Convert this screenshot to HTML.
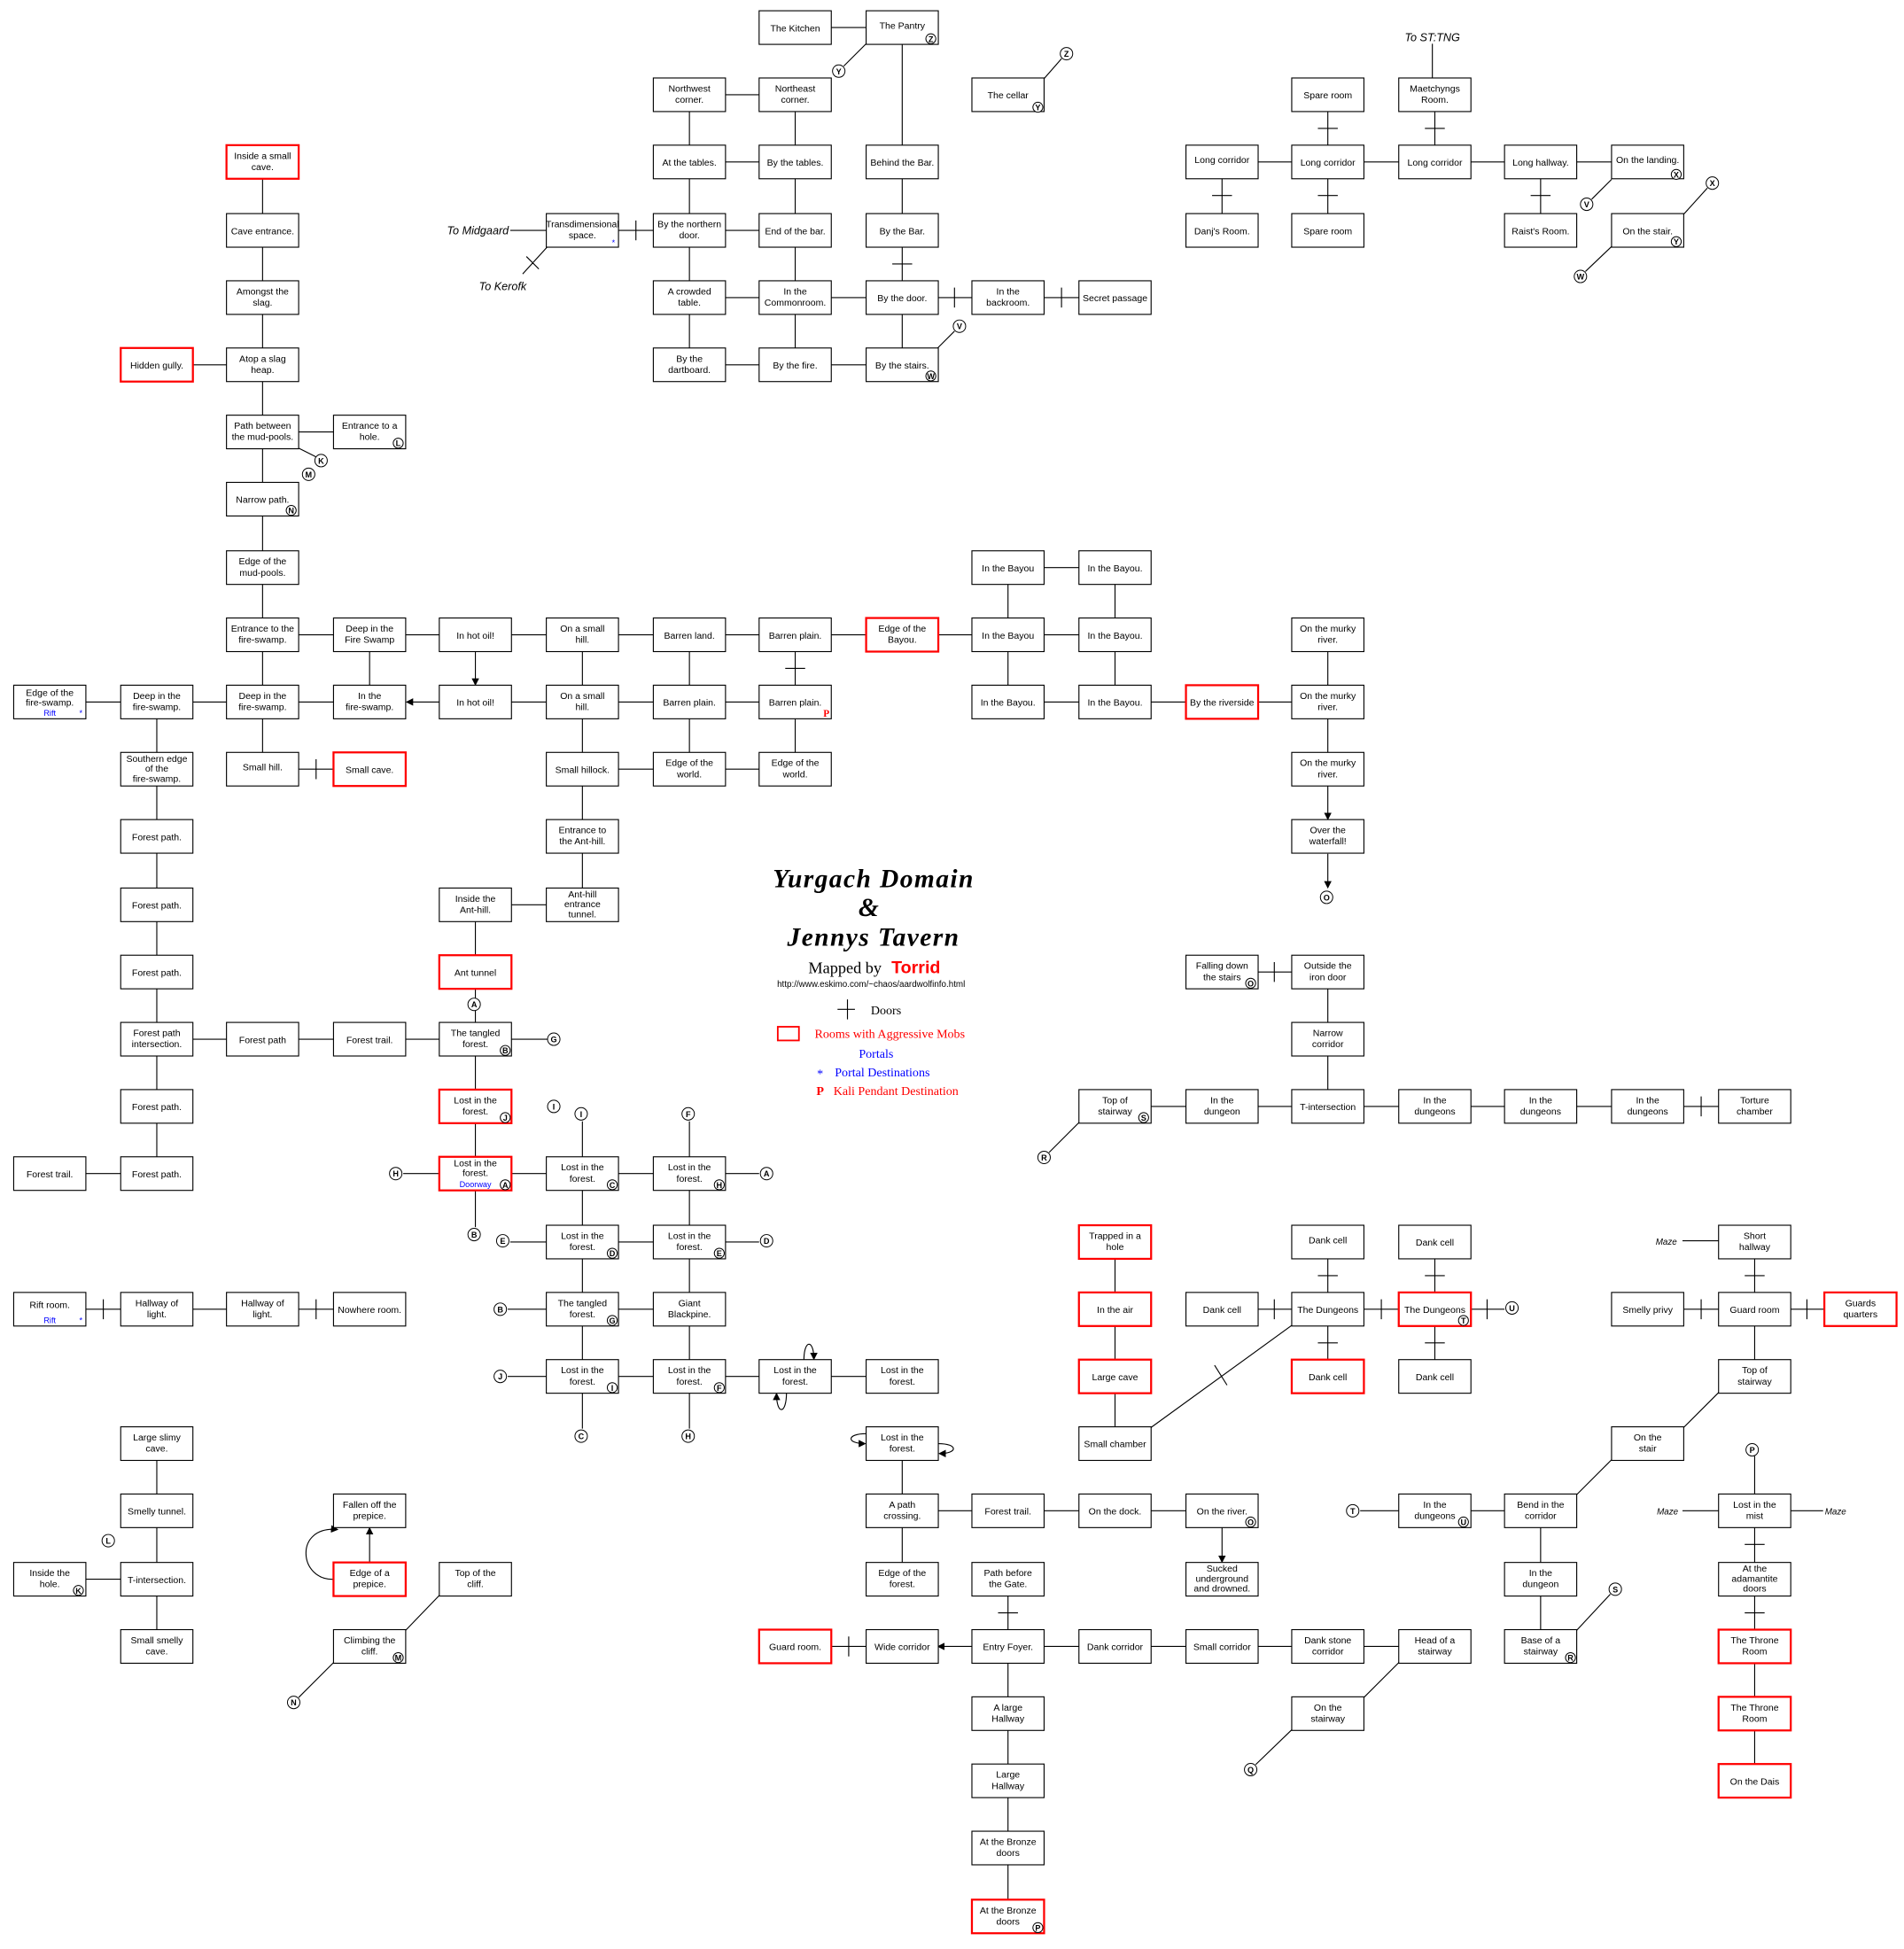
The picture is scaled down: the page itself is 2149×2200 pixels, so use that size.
<!DOCTYPE html>
<html><head><meta charset="utf-8"><style>
html,body{margin:0;padding:0;background:#fff;}
svg{display:block;}
text{font-family:"Liberation Sans",sans-serif;font-size:7.5px;text-anchor:middle;fill:#000;}
rect{fill:#fff;stroke:#000;stroke-width:0.8;}
.r rect{stroke:#f00;stroke-width:1.6;}
.l{fill:none;stroke:#000;stroke-width:0.8;}
circle{fill:#fff;stroke:#000;stroke-width:0.7;}
.c{font-size:6.5px;font-weight:bold;}
.b{fill:#00f;font-size:6.5px;}
.s{font-family:"Liberation Serif",serif;}
</style></head><body>
<svg width="2149" height="2200" viewBox="0 0 1530 1566" xmlns="http://www.w3.org/2000/svg">
<defs><marker id="a" markerWidth="6" markerHeight="6" refX="5" refY="3" orient="auto" markerUnits="userSpaceOnUse"><path d="M0,0 L6,3 L0,6z" fill="#000"/></marker></defs>
<path class="l" d="
M639 22H725 M554 76H639
M554 130H639 M982 130H1067 M1067 130H1153 M1153 130H1238 M1238 130H1324
M468 185H554 M511 177V193 M554 185H639
M554 239H639 M639 239H725 M725 239H810 M767 231V247 M810 239H896 M853 231V247
M126 293H211 M554 293H639 M639 293H725
M211 347H297
M810 456H896
M211 510H297 M297 510H382 M382 510H468 M468 510H554 M554 510H639 M639 510H725 M725 510H810 M810 510H896
M40 564H126 M126 564H211 M211 564H297 M382 564H468 M468 564H554 M554 564H639 M810 564H896 M896 564H982 M982 564H1067
M211 618H297 M254 610V626 M468 618H554 M554 618H639
M382 727H468
M982 781H1067 M1024 773V789
M126 835H211 M211 835H297 M297 835H382 M382 835H440
M896 889H982 M982 889H1067 M1067 889H1153 M1153 889H1238 M1238 889H1324 M1324 889H1410 M1367 881V897
M40 943H126 M324 943H382 M382 943H468 M468 943H554 M554 943H610
M410 998H468 M468 998H554 M554 998H610
M40 1052H126 M83 1044V1060 M126 1052H211 M211 1052H297 M254 1044V1060 M408 1052H468 M468 1052H554
M982 1052H1067 M1024 1044V1060 M1067 1052H1153 M1110 1044V1060 M1153 1052H1209 M1195 1044V1060
M1324 1052H1410 M1367 1044V1060 M1410 1052H1495 M1452 1044V1060
M408 1106H468 M468 1106H554 M554 1106H639 M639 1106H725
M725 1214H810 M810 1214H896 M896 1214H982 M1093 1214H1153 M1153 1214H1238
M40 1269H126
M639 1323H725 M682 1315V1331 M810 1323H896 M896 1323H982 M982 1323H1067 M1067 1323H1153
M126 564V618 M126 618V672 M126 672V727 M126 727V781 M126 781V835 M126 835V889 M126 889V943
M126 1160V1214 M126 1214V1269 M126 1269V1323
M211 130V185 M211 185V239 M211 239V293 M211 293V347 M211 347V401 M211 401V456 M211 456V510 M211 510V564 M211 564V618
M297 510V564
M382 727V781 M382 781V835 M382 813V835 M382 835V889 M382 889V943 M382 943V986
M468 510V564 M468 564V618 M468 618V672 M468 672V727 M468 901V943 M468 943V998 M468 998V1052 M468 1052V1106 M468 1106V1148
M554 76V130 M554 130V185 M554 185V239 M554 239V293 M554 510V564 M554 564V618 M554 901V943 M554 943V998 M554 998V1052 M554 1052V1106 M554 1106V1148
M639 76V130 M639 130V185 M639 185V239 M639 239V293 M639 510V564 M631 537H647 M639 564V618
M725 22V130 M725 130V185 M725 185V239 M717 212H733 M725 239V293 M725 1160V1214 M725 1214V1269
M810 456V510 M810 510V564 M810 1269V1323 M802 1296H818 M810 1323V1377 M810 1377V1431 M810 1431V1485 M810 1485V1540
M896 456V510 M896 510V564 M896 998V1052 M896 1052V1106 M896 1106V1160
M1067 76V130 M1059 103H1075 M1067 130V185 M1059 157H1075 M1067 510V564 M1067 564V618
M1067 781V835 M1067 835V889 M1067 998V1052 M1059 1025H1075 M1067 1052V1106 M1059 1079H1075
M1153 76V130 M1145 103H1161 M1153 998V1052 M1145 1025H1161 M1153 1052V1106 M1145 1079H1161
M982 130V185 M974 157H990 M1238 130V185 M1230 157H1246
M1238 1214V1269 M1238 1269V1323
M1410 998V1052 M1402 1025H1418 M1410 1052V1106 M1410 1170V1214 M1410 1214V1269 M1402 1241H1418 M1410 1269V1323 M1402 1296H1418 M1410 1323V1377 M1410 1377V1431
M696 35L678 53 M839 63L853 47 M753 280L767 266 M410 185H439
M440 198L420 220 M423 206L433 216
M240 360L254 367
M1295 144L1279 160 M1372 151L1353 172 M1295 198L1274 218 M1151 35V63
M867 902L843 926
M1038 1065L925 1147 M976 1097L986 1113
M1381 1119L1353 1147 M1295 1173L1267 1201 M1294 1281L1267 1310
M1096 1364L1124 1336 M1038 1390L1009 1418
M353 1282L326 1310 M268 1336L240 1364
M1352 997H1381 M1352 1214H1381 M1439 1214H1465
"/>
<path class="l" marker-end="url(#a)" d="M382 523V550"/>
<path class="l" marker-end="url(#a)" d="M353 564H327"/>
<path class="l" marker-end="url(#a)" d="M1067 631V658"/>
<path class="l" marker-end="url(#a)" d="M1067 686V713"/>
<path class="l" marker-end="url(#a)" d="M982 1227V1255"/>
<path class="l" marker-end="url(#a)" d="M781 1323H754"/>
<path class="l" marker-end="url(#a)" d="M297 1255V1228"/>
<path class="l" marker-end="url(#a)" d="M268 1269C240 1270 236 1226 271 1229"/>
<path class="l" marker-end="url(#a)" d="M646 1093C646 1076 654 1076 654 1092"/>
<path class="l" marker-end="url(#a)" d="M632 1119C632 1137 624 1137 624 1120"/>
<path class="l" marker-end="url(#a)" d="M696 1152C680 1152 680 1160 695 1160"/>
<path class="l" marker-end="url(#a)" d="M754 1160C770 1160 770 1168 755 1168"/>

<g transform="translate(639,22)"><rect x="-29" y="-13.5" width="58" height="27"/><text y="3">The Kitchen</text></g>
<g transform="translate(725,22)"><rect x="-29" y="-13.5" width="58" height="27"/><text y="1">The Pantry</text></g>
<g transform="translate(554,76)"><rect x="-29" y="-13.5" width="58" height="27"/><text y="-2.5">Northwest</text><text y="6.5">corner.</text></g>
<g transform="translate(639,76)"><rect x="-29" y="-13.5" width="58" height="27"/><text y="-2.5">Northeast</text><text y="6.5">corner.</text></g>
<g transform="translate(810,76)"><rect x="-29" y="-13.5" width="58" height="27"/><text y="3">The cellar</text></g>
<g transform="translate(1067,76)"><rect x="-29" y="-13.5" width="58" height="27"/><text y="3">Spare room</text></g>
<g transform="translate(1153,76)"><rect x="-29" y="-13.5" width="58" height="27"/><text y="-2.5">Maetchyngs</text><text y="6.5">Room.</text></g>
<g class="r" transform="translate(211,130)"><rect x="-29" y="-13.5" width="58" height="27"/><text y="-2.5">Inside a small</text><text y="6.5">cave.</text></g>
<g transform="translate(554,130)"><rect x="-29" y="-13.5" width="58" height="27"/><text y="3">At the tables.</text></g>
<g transform="translate(639,130)"><rect x="-29" y="-13.5" width="58" height="27"/><text y="3">By the tables.</text></g>
<g transform="translate(725,130)"><rect x="-29" y="-13.5" width="58" height="27"/><text y="3">Behind the Bar.</text></g>
<g transform="translate(982,130)"><rect x="-29" y="-13.5" width="58" height="27"/><text y="1">Long corridor</text></g>
<g transform="translate(1067,130)"><rect x="-29" y="-13.5" width="58" height="27"/><text y="3">Long corridor</text></g>
<g transform="translate(1153,130)"><rect x="-29" y="-13.5" width="58" height="27"/><text y="3">Long corridor</text></g>
<g transform="translate(1238,130)"><rect x="-29" y="-13.5" width="58" height="27"/><text y="3">Long hallway.</text></g>
<g transform="translate(1324,130)"><rect x="-29" y="-13.5" width="58" height="27"/><text y="1">On the landing.</text></g>
<g transform="translate(211,185)"><rect x="-29" y="-13.5" width="58" height="27"/><text y="3">Cave entrance.</text></g>
<g transform="translate(468,185)"><rect x="-29" y="-13.5" width="58" height="27"/><text y="-2.5">Transdimensional</text><text y="6.5">space.</text></g>
<g transform="translate(554,185)"><rect x="-29" y="-13.5" width="58" height="27"/><text y="-2.5">By the northern</text><text y="6.5">door.</text></g>
<g transform="translate(639,185)"><rect x="-29" y="-13.5" width="58" height="27"/><text y="3">End of the bar.</text></g>
<g transform="translate(725,185)"><rect x="-29" y="-13.5" width="58" height="27"/><text y="3">By the Bar.</text></g>
<g transform="translate(982,185)"><rect x="-29" y="-13.5" width="58" height="27"/><text y="3">Danj's Room.</text></g>
<g transform="translate(1067,185)"><rect x="-29" y="-13.5" width="58" height="27"/><text y="3">Spare room</text></g>
<g transform="translate(1238,185)"><rect x="-29" y="-13.5" width="58" height="27"/><text y="3">Raist's Room.</text></g>
<g transform="translate(1324,185)"><rect x="-29" y="-13.5" width="58" height="27"/><text y="3">On the stair.</text></g>
<g transform="translate(211,239)"><rect x="-29" y="-13.5" width="58" height="27"/><text y="-2.5">Amongst the</text><text y="6.5">slag.</text></g>
<g transform="translate(554,239)"><rect x="-29" y="-13.5" width="58" height="27"/><text y="-2.5">A crowded</text><text y="6.5">table.</text></g>
<g transform="translate(639,239)"><rect x="-29" y="-13.5" width="58" height="27"/><text y="-2.5">In the</text><text y="6.5">Commonroom.</text></g>
<g transform="translate(725,239)"><rect x="-29" y="-13.5" width="58" height="27"/><text y="3">By the door.</text></g>
<g transform="translate(810,239)"><rect x="-29" y="-13.5" width="58" height="27"/><text y="-2.5">In the</text><text y="6.5">backroom.</text></g>
<g transform="translate(896,239)"><rect x="-29" y="-13.5" width="58" height="27"/><text y="3">Secret passage</text></g>
<g class="r" transform="translate(126,293)"><rect x="-29" y="-13.5" width="58" height="27"/><text y="3">Hidden gully.</text></g>
<g transform="translate(211,293)"><rect x="-29" y="-13.5" width="58" height="27"/><text y="-2.5">Atop a slag</text><text y="6.5">heap.</text></g>
<g transform="translate(554,293)"><rect x="-29" y="-13.5" width="58" height="27"/><text y="-2.5">By the</text><text y="6.5">dartboard.</text></g>
<g transform="translate(639,293)"><rect x="-29" y="-13.5" width="58" height="27"/><text y="3">By the fire.</text></g>
<g transform="translate(725,293)"><rect x="-29" y="-13.5" width="58" height="27"/><text y="3">By the stairs.</text></g>
<g transform="translate(211,347)"><rect x="-29" y="-13.5" width="58" height="27"/><text y="-2.5">Path between</text><text y="6.5">the mud-pools.</text></g>
<g transform="translate(297,347)"><rect x="-29" y="-13.5" width="58" height="27"/><text y="-2.5">Entrance to a</text><text y="6.5">hole.</text></g>
<g transform="translate(211,401)"><rect x="-29" y="-13.5" width="58" height="27"/><text y="3">Narrow path.</text></g>
<g transform="translate(211,456)"><rect x="-29" y="-13.5" width="58" height="27"/><text y="-2.5">Edge of the</text><text y="6.5">mud-pools.</text></g>
<g transform="translate(810,456)"><rect x="-29" y="-13.5" width="58" height="27"/><text y="3">In the Bayou</text></g>
<g transform="translate(896,456)"><rect x="-29" y="-13.5" width="58" height="27"/><text y="3">In the Bayou.</text></g>
<g transform="translate(211,510)"><rect x="-29" y="-13.5" width="58" height="27"/><text y="-2.5">Entrance to the</text><text y="6.5">fire-swamp.</text></g>
<g transform="translate(297,510)"><rect x="-29" y="-13.5" width="58" height="27"/><text y="-2.5">Deep in the</text><text y="6.5">Fire Swamp</text></g>
<g transform="translate(382,510)"><rect x="-29" y="-13.5" width="58" height="27"/><text y="3">In hot oil!</text></g>
<g transform="translate(468,510)"><rect x="-29" y="-13.5" width="58" height="27"/><text y="-2.5">On a small</text><text y="6.5">hill.</text></g>
<g transform="translate(554,510)"><rect x="-29" y="-13.5" width="58" height="27"/><text y="3">Barren land.</text></g>
<g transform="translate(639,510)"><rect x="-29" y="-13.5" width="58" height="27"/><text y="3">Barren plain.</text></g>
<g class="r" transform="translate(725,510)"><rect x="-29" y="-13.5" width="58" height="27"/><text y="-2.5">Edge of the</text><text y="6.5">Bayou.</text></g>
<g transform="translate(810,510)"><rect x="-29" y="-13.5" width="58" height="27"/><text y="3">In the Bayou</text></g>
<g transform="translate(896,510)"><rect x="-29" y="-13.5" width="58" height="27"/><text y="3">In the Bayou.</text></g>
<g transform="translate(1067,510)"><rect x="-29" y="-13.5" width="58" height="27"/><text y="-2.5">On the murky</text><text y="6.5">river.</text></g>
<g transform="translate(40,564)"><rect x="-29" y="-13.5" width="58" height="27"/><text y="-5">Edge of the</text><text y="3">fire-swamp.</text><text class="b" y="11">Rift</text><text class="b" x="25" y="11">*</text></g>
<g transform="translate(126,564)"><rect x="-29" y="-13.5" width="58" height="27"/><text y="-2.5">Deep in the</text><text y="6.5">fire-swamp.</text></g>
<g transform="translate(211,564)"><rect x="-29" y="-13.5" width="58" height="27"/><text y="-2.5">Deep in the</text><text y="6.5">fire-swamp.</text></g>
<g transform="translate(297,564)"><rect x="-29" y="-13.5" width="58" height="27"/><text y="-2.5">In the</text><text y="6.5">fire-swamp.</text></g>
<g transform="translate(382,564)"><rect x="-29" y="-13.5" width="58" height="27"/><text y="3">In hot oil!</text></g>
<g transform="translate(468,564)"><rect x="-29" y="-13.5" width="58" height="27"/><text y="-2.5">On a small</text><text y="6.5">hill.</text></g>
<g transform="translate(554,564)"><rect x="-29" y="-13.5" width="58" height="27"/><text y="3">Barren plain.</text></g>
<g transform="translate(639,564)"><rect x="-29" y="-13.5" width="58" height="27"/><text y="3">Barren plain.</text><text x="25" y="12" style="fill:#f00;font-family:'Liberation Serif',serif;font-weight:bold;font-size:8px">P</text></g>
<g transform="translate(810,564)"><rect x="-29" y="-13.5" width="58" height="27"/><text y="3">In the Bayou.</text></g>
<g transform="translate(896,564)"><rect x="-29" y="-13.5" width="58" height="27"/><text y="3">In the Bayou.</text></g>
<g class="r" transform="translate(982,564)"><rect x="-29" y="-13.5" width="58" height="27"/><text y="3">By the riverside</text></g>
<g transform="translate(1067,564)"><rect x="-29" y="-13.5" width="58" height="27"/><text y="-2.5">On the murky</text><text y="6.5">river.</text></g>
<g transform="translate(126,618)"><rect x="-29" y="-13.5" width="58" height="27"/><text y="-6">Southern edge</text><text y="2">of the</text><text y="10">fire-swamp.</text></g>
<g transform="translate(211,618)"><rect x="-29" y="-13.5" width="58" height="27"/><text y="1">Small hill.</text></g>
<g class="r" transform="translate(297,618)"><rect x="-29" y="-13.5" width="58" height="27"/><text y="3">Small cave.</text></g>
<g transform="translate(468,618)"><rect x="-29" y="-13.5" width="58" height="27"/><text y="3">Small hillock.</text></g>
<g transform="translate(554,618)"><rect x="-29" y="-13.5" width="58" height="27"/><text y="-2.5">Edge of the</text><text y="6.5">world.</text></g>
<g transform="translate(639,618)"><rect x="-29" y="-13.5" width="58" height="27"/><text y="-2.5">Edge of the</text><text y="6.5">world.</text></g>
<g transform="translate(1067,618)"><rect x="-29" y="-13.5" width="58" height="27"/><text y="-2.5">On the murky</text><text y="6.5">river.</text></g>
<g transform="translate(126,672)"><rect x="-29" y="-13.5" width="58" height="27"/><text y="3">Forest path.</text></g>
<g transform="translate(468,672)"><rect x="-29" y="-13.5" width="58" height="27"/><text y="-2.5">Entrance to</text><text y="6.5">the Ant-hill.</text></g>
<g transform="translate(1067,672)"><rect x="-29" y="-13.5" width="58" height="27"/><text y="-2.5">Over the</text><text y="6.5">waterfall!</text></g>
<g transform="translate(126,727)"><rect x="-29" y="-13.5" width="58" height="27"/><text y="3">Forest path.</text></g>
<g transform="translate(382,727)"><rect x="-29" y="-13.5" width="58" height="27"/><text y="-2.5">Inside the</text><text y="6.5">Ant-hill.</text></g>
<g transform="translate(468,727)"><rect x="-29" y="-13.5" width="58" height="27"/><text y="-6">Ant-hill</text><text y="2">entrance</text><text y="10">tunnel.</text></g>
<g transform="translate(126,781)"><rect x="-29" y="-13.5" width="58" height="27"/><text y="3">Forest path.</text></g>
<g class="r" transform="translate(382,781)"><rect x="-29" y="-13.5" width="58" height="27"/><text y="3">Ant tunnel</text></g>
<g transform="translate(982,781)"><rect x="-29" y="-13.5" width="58" height="27"/><text y="-2.5">Falling down</text><text y="6.5">the stairs</text></g>
<g transform="translate(1067,781)"><rect x="-29" y="-13.5" width="58" height="27"/><text y="-2.5">Outside the</text><text y="6.5">iron door</text></g>
<g transform="translate(126,835)"><rect x="-29" y="-13.5" width="58" height="27"/><text y="-2.5">Forest path</text><text y="6.5">intersection.</text></g>
<g transform="translate(211,835)"><rect x="-29" y="-13.5" width="58" height="27"/><text y="3">Forest path</text></g>
<g transform="translate(297,835)"><rect x="-29" y="-13.5" width="58" height="27"/><text y="3">Forest trail.</text></g>
<g transform="translate(382,835)"><rect x="-29" y="-13.5" width="58" height="27"/><text y="-2.5">The tangled</text><text y="6.5">forest.</text></g>
<g transform="translate(1067,835)"><rect x="-29" y="-13.5" width="58" height="27"/><text y="-2.5">Narrow</text><text y="6.5">corridor</text></g>
<g transform="translate(126,889)"><rect x="-29" y="-13.5" width="58" height="27"/><text y="3">Forest path.</text></g>
<g class="r" transform="translate(382,889)"><rect x="-29" y="-13.5" width="58" height="27"/><text y="-2.5">Lost in the</text><text y="6.5">forest.</text></g>
<g transform="translate(896,889)"><rect x="-29" y="-13.5" width="58" height="27"/><text y="-2.5">Top of</text><text y="6.5">stairway</text></g>
<g transform="translate(982,889)"><rect x="-29" y="-13.5" width="58" height="27"/><text y="-2.5">In the</text><text y="6.5">dungeon</text></g>
<g transform="translate(1067,889)"><rect x="-29" y="-13.5" width="58" height="27"/><text y="3">T-intersection</text></g>
<g transform="translate(1153,889)"><rect x="-29" y="-13.5" width="58" height="27"/><text y="-2.5">In the</text><text y="6.5">dungeons</text></g>
<g transform="translate(1238,889)"><rect x="-29" y="-13.5" width="58" height="27"/><text y="-2.5">In the</text><text y="6.5">dungeons</text></g>
<g transform="translate(1324,889)"><rect x="-29" y="-13.5" width="58" height="27"/><text y="-2.5">In the</text><text y="6.5">dungeons</text></g>
<g transform="translate(1410,889)"><rect x="-29" y="-13.5" width="58" height="27"/><text y="-2.5">Torture</text><text y="6.5">chamber</text></g>
<g transform="translate(40,943)"><rect x="-29" y="-13.5" width="58" height="27"/><text y="3">Forest trail.</text></g>
<g transform="translate(126,943)"><rect x="-29" y="-13.5" width="58" height="27"/><text y="3">Forest path.</text></g>
<g class="r" transform="translate(382,943)"><rect x="-29" y="-13.5" width="58" height="27"/><text y="-6">Lost in the</text><text y="2">forest.</text><text class="b" y="11">Doorway</text></g>
<g transform="translate(468,943)"><rect x="-29" y="-13.5" width="58" height="27"/><text y="-2.5">Lost in the</text><text y="6.5">forest.</text></g>
<g transform="translate(554,943)"><rect x="-29" y="-13.5" width="58" height="27"/><text y="-2.5">Lost in the</text><text y="6.5">forest.</text></g>
<g transform="translate(468,998)"><rect x="-29" y="-13.5" width="58" height="27"/><text y="-2.5">Lost in the</text><text y="6.5">forest.</text></g>
<g transform="translate(554,998)"><rect x="-29" y="-13.5" width="58" height="27"/><text y="-2.5">Lost in the</text><text y="6.5">forest.</text></g>
<g class="r" transform="translate(896,998)"><rect x="-29" y="-13.5" width="58" height="27"/><text y="-2.5">Trapped in a</text><text y="6.5">hole</text></g>
<g transform="translate(1067,998)"><rect x="-29" y="-13.5" width="58" height="27"/><text y="1">Dank cell</text></g>
<g transform="translate(1153,998)"><rect x="-29" y="-13.5" width="58" height="27"/><text y="3">Dank cell</text></g>
<g transform="translate(1410,998)"><rect x="-29" y="-13.5" width="58" height="27"/><text y="-2.5">Short</text><text y="6.5">hallway</text></g>
<g transform="translate(40,1052)"><rect x="-29" y="-13.5" width="58" height="27"/><text y="-1">Rift room.</text><text class="b" y="11">Rift</text><text class="b" x="25" y="11">*</text></g>
<g transform="translate(126,1052)"><rect x="-29" y="-13.5" width="58" height="27"/><text y="-2.5">Hallway of</text><text y="6.5">light.</text></g>
<g transform="translate(211,1052)"><rect x="-29" y="-13.5" width="58" height="27"/><text y="-2.5">Hallway of</text><text y="6.5">light.</text></g>
<g transform="translate(297,1052)"><rect x="-29" y="-13.5" width="58" height="27"/><text y="3">Nowhere room.</text></g>
<g transform="translate(468,1052)"><rect x="-29" y="-13.5" width="58" height="27"/><text y="-2.5">The tangled</text><text y="6.5">forest.</text></g>
<g transform="translate(554,1052)"><rect x="-29" y="-13.5" width="58" height="27"/><text y="-2.5">Giant</text><text y="6.5">Blackpine.</text></g>
<g class="r" transform="translate(896,1052)"><rect x="-29" y="-13.5" width="58" height="27"/><text y="3">In the air</text></g>
<g transform="translate(982,1052)"><rect x="-29" y="-13.5" width="58" height="27"/><text y="3">Dank cell</text></g>
<g transform="translate(1067,1052)"><rect x="-29" y="-13.5" width="58" height="27"/><text y="3">The Dungeons</text></g>
<g class="r" transform="translate(1153,1052)"><rect x="-29" y="-13.5" width="58" height="27"/><text y="3">The Dungeons</text></g>
<g transform="translate(1324,1052)"><rect x="-29" y="-13.5" width="58" height="27"/><text y="3">Smelly privy</text></g>
<g transform="translate(1410,1052)"><rect x="-29" y="-13.5" width="58" height="27"/><text y="3">Guard room</text></g>
<g class="r" transform="translate(1495,1052)"><rect x="-29" y="-13.5" width="58" height="27"/><text y="-2.5">Guards</text><text y="6.5">quarters</text></g>
<g transform="translate(468,1106)"><rect x="-29" y="-13.5" width="58" height="27"/><text y="-2.5">Lost in the</text><text y="6.5">forest.</text></g>
<g transform="translate(554,1106)"><rect x="-29" y="-13.5" width="58" height="27"/><text y="-2.5">Lost in the</text><text y="6.5">forest.</text></g>
<g transform="translate(639,1106)"><rect x="-29" y="-13.5" width="58" height="27"/><text y="-2.5">Lost in the</text><text y="6.5">forest.</text></g>
<g transform="translate(725,1106)"><rect x="-29" y="-13.5" width="58" height="27"/><text y="-2.5">Lost in the</text><text y="6.5">forest.</text></g>
<g class="r" transform="translate(896,1106)"><rect x="-29" y="-13.5" width="58" height="27"/><text y="3">Large cave</text></g>
<g class="r" transform="translate(1067,1106)"><rect x="-29" y="-13.5" width="58" height="27"/><text y="3">Dank cell</text></g>
<g transform="translate(1153,1106)"><rect x="-29" y="-13.5" width="58" height="27"/><text y="3">Dank cell</text></g>
<g transform="translate(1410,1106)"><rect x="-29" y="-13.5" width="58" height="27"/><text y="-2.5">Top of</text><text y="6.5">stairway</text></g>
<g transform="translate(126,1160)"><rect x="-29" y="-13.5" width="58" height="27"/><text y="-2.5">Large slimy</text><text y="6.5">cave.</text></g>
<g transform="translate(725,1160)"><rect x="-29" y="-13.5" width="58" height="27"/><text y="-2.5">Lost in the</text><text y="6.5">forest.</text></g>
<g transform="translate(896,1160)"><rect x="-29" y="-13.5" width="58" height="27"/><text y="3">Small chamber</text></g>
<g transform="translate(1324,1160)"><rect x="-29" y="-13.5" width="58" height="27"/><text y="-2.5">On the</text><text y="6.5">stair</text></g>
<g transform="translate(126,1214)"><rect x="-29" y="-13.5" width="58" height="27"/><text y="3">Smelly tunnel.</text></g>
<g transform="translate(297,1214)"><rect x="-29" y="-13.5" width="58" height="27"/><text y="-2.5">Fallen off the</text><text y="6.5">prepice.</text></g>
<g transform="translate(725,1214)"><rect x="-29" y="-13.5" width="58" height="27"/><text y="-2.5">A path</text><text y="6.5">crossing.</text></g>
<g transform="translate(810,1214)"><rect x="-29" y="-13.5" width="58" height="27"/><text y="3">Forest trail.</text></g>
<g transform="translate(896,1214)"><rect x="-29" y="-13.5" width="58" height="27"/><text y="3">On the dock.</text></g>
<g transform="translate(982,1214)"><rect x="-29" y="-13.5" width="58" height="27"/><text y="3">On the river.</text></g>
<g transform="translate(1153,1214)"><rect x="-29" y="-13.5" width="58" height="27"/><text y="-2.5">In the</text><text y="6.5">dungeons</text></g>
<g transform="translate(1238,1214)"><rect x="-29" y="-13.5" width="58" height="27"/><text y="-2.5">Bend in the</text><text y="6.5">corridor</text></g>
<g transform="translate(1410,1214)"><rect x="-29" y="-13.5" width="58" height="27"/><text y="-2.5">Lost in the</text><text y="6.5">mist</text></g>
<g transform="translate(40,1269)"><rect x="-29" y="-13.5" width="58" height="27"/><text y="-2.5">Inside the</text><text y="6.5">hole.</text></g>
<g transform="translate(126,1269)"><rect x="-29" y="-13.5" width="58" height="27"/><text y="3">T-intersection.</text></g>
<g class="r" transform="translate(297,1269)"><rect x="-29" y="-13.5" width="58" height="27"/><text y="-2.5">Edge of a</text><text y="6.5">prepice.</text></g>
<g transform="translate(382,1269)"><rect x="-29" y="-13.5" width="58" height="27"/><text y="-2.5">Top of the</text><text y="6.5">cliff.</text></g>
<g transform="translate(725,1269)"><rect x="-29" y="-13.5" width="58" height="27"/><text y="-2.5">Edge of the</text><text y="6.5">forest.</text></g>
<g transform="translate(810,1269)"><rect x="-29" y="-13.5" width="58" height="27"/><text y="-2.5">Path before</text><text y="6.5">the Gate.</text></g>
<g transform="translate(982,1269)"><rect x="-29" y="-13.5" width="58" height="27"/><text y="-6">Sucked</text><text y="2">underground</text><text y="10">and drowned.</text></g>
<g transform="translate(1238,1269)"><rect x="-29" y="-13.5" width="58" height="27"/><text y="-2.5">In the</text><text y="6.5">dungeon</text></g>
<g transform="translate(1410,1269)"><rect x="-29" y="-13.5" width="58" height="27"/><text y="-6">At the</text><text y="2">adamantite</text><text y="10">doors</text></g>
<g transform="translate(126,1323)"><rect x="-29" y="-13.5" width="58" height="27"/><text y="-2.5">Small smelly</text><text y="6.5">cave.</text></g>
<g transform="translate(297,1323)"><rect x="-29" y="-13.5" width="58" height="27"/><text y="-2.5">Climbing the</text><text y="6.5">cliff.</text></g>
<g class="r" transform="translate(639,1323)"><rect x="-29" y="-13.5" width="58" height="27"/><text y="3">Guard room.</text></g>
<g transform="translate(725,1323)"><rect x="-29" y="-13.5" width="58" height="27"/><text y="3">Wide corridor</text></g>
<g transform="translate(810,1323)"><rect x="-29" y="-13.5" width="58" height="27"/><text y="3">Entry Foyer.</text></g>
<g transform="translate(896,1323)"><rect x="-29" y="-13.5" width="58" height="27"/><text y="3">Dank corridor</text></g>
<g transform="translate(982,1323)"><rect x="-29" y="-13.5" width="58" height="27"/><text y="3">Small corridor</text></g>
<g transform="translate(1067,1323)"><rect x="-29" y="-13.5" width="58" height="27"/><text y="-2.5">Dank stone</text><text y="6.5">corridor</text></g>
<g transform="translate(1153,1323)"><rect x="-29" y="-13.5" width="58" height="27"/><text y="-2.5">Head of a</text><text y="6.5">stairway</text></g>
<g transform="translate(1238,1323)"><rect x="-29" y="-13.5" width="58" height="27"/><text y="-2.5">Base of a</text><text y="6.5">stairway</text></g>
<g class="r" transform="translate(1410,1323)"><rect x="-29" y="-13.5" width="58" height="27"/><text y="-2.5">The Throne</text><text y="6.5">Room</text></g>
<g transform="translate(810,1377)"><rect x="-29" y="-13.5" width="58" height="27"/><text y="-2.5">A large</text><text y="6.5">Hallway</text></g>
<g transform="translate(1067,1377)"><rect x="-29" y="-13.5" width="58" height="27"/><text y="-2.5">On the</text><text y="6.5">stairway</text></g>
<g class="r" transform="translate(1410,1377)"><rect x="-29" y="-13.5" width="58" height="27"/><text y="-2.5">The Throne</text><text y="6.5">Room</text></g>
<g transform="translate(810,1431)"><rect x="-29" y="-13.5" width="58" height="27"/><text y="-2.5">Large</text><text y="6.5">Hallway</text></g>
<g class="r" transform="translate(1410,1431)"><rect x="-29" y="-13.5" width="58" height="27"/><text y="3">On the Dais</text></g>
<g transform="translate(810,1485)"><rect x="-29" y="-13.5" width="58" height="27"/><text y="-2.5">At the Bronze</text><text y="6.5">doors</text></g>
<g class="r" transform="translate(810,1540)"><rect x="-29" y="-13.5" width="58" height="27"/><text y="-2.5">At the Bronze</text><text y="6.5">doors</text></g>
<text class="b" x="493" y="197">*</text>

<g>
<circle cx="748" cy="31" r="4"/><text class="c" x="748" y="33.5">Z</text>
<circle cx="834" cy="86" r="4"/><text class="c" x="834" y="88.5">Y</text>
<circle cx="748" cy="302" r="4"/><text class="c" x="748" y="304.5">W</text>
<circle cx="320" cy="356" r="4"/><text class="c" x="320" y="358.5">L</text>
<circle cx="234" cy="410" r="4"/><text class="c" x="234" y="412.5">N</text>
<circle cx="1347" cy="140" r="4"/><text class="c" x="1347" y="142.5">X</text>
<circle cx="1347" cy="194" r="4"/><text class="c" x="1347" y="196.5">Y</text>
<circle cx="406" cy="844" r="4"/><text class="c" x="406" y="846.5">B</text>
<circle cx="406" cy="898" r="4"/><text class="c" x="406" y="900.5">J</text>
<circle cx="406" cy="952" r="4"/><text class="c" x="406" y="954.5">A</text>
<circle cx="492" cy="952" r="4"/><text class="c" x="492" y="954.5">C</text>
<circle cx="578" cy="952" r="4"/><text class="c" x="578" y="954.5">H</text>
<circle cx="492" cy="1007" r="4"/><text class="c" x="492" y="1009.5">D</text>
<circle cx="578" cy="1007" r="4"/><text class="c" x="578" y="1009.5">E</text>
<circle cx="492" cy="1061" r="4"/><text class="c" x="492" y="1063.5">G</text>
<circle cx="492" cy="1115" r="4"/><text class="c" x="492" y="1117.5">I</text>
<circle cx="578" cy="1115" r="4"/><text class="c" x="578" y="1117.5">F</text>
<circle cx="1005" cy="790" r="4"/><text class="c" x="1005" y="792.5">O</text>
<circle cx="919" cy="898" r="4"/><text class="c" x="919" y="900.5">S</text>
<circle cx="1176" cy="1061" r="4"/><text class="c" x="1176" y="1063.5">T</text>
<circle cx="1005" cy="1223" r="4"/><text class="c" x="1005" y="1225.5">O</text>
<circle cx="1176" cy="1223" r="4"/><text class="c" x="1176" y="1225.5">U</text>
<circle cx="1262" cy="1332" r="4"/><text class="c" x="1262" y="1334.5">R</text>
<circle cx="320" cy="1332" r="4"/><text class="c" x="320" y="1334.5">M</text>
<circle cx="63" cy="1278" r="4"/><text class="c" x="63" y="1280.5">K</text>
<circle cx="834" cy="1549" r="4"/><text class="c" x="834" y="1551.5">P</text>
</g>
<g>
<circle cx="674" cy="57" r="5"/><text class="c" x="674" y="59.5">Y</text>
<circle cx="857" cy="43" r="5"/><text class="c" x="857" y="45.5">Z</text>
<circle cx="771" cy="262" r="5"/><text class="c" x="771" y="264.5">V</text>
<circle cx="1376" cy="147" r="5"/><text class="c" x="1376" y="149.5">X</text>
<circle cx="1275" cy="164" r="5"/><text class="c" x="1275" y="166.5">V</text>
<circle cx="1270" cy="222" r="5"/><text class="c" x="1270" y="224.5">W</text>
<circle cx="258" cy="370" r="5"/><text class="c" x="258" y="372.5">K</text>
<circle cx="248" cy="381" r="5"/><text class="c" x="248" y="383.5">M</text>
<circle cx="1066" cy="721" r="5"/><text class="c" x="1066" y="723.5">O</text>
<circle cx="381" cy="807" r="5"/><text class="c" x="381" y="809.5">A</text>
<circle cx="445" cy="835" r="5"/><text class="c" x="445" y="837.5">G</text>
<circle cx="445" cy="889" r="5"/><text class="c" x="445" y="891.5">I</text>
<circle cx="467" cy="895" r="5"/><text class="c" x="467" y="897.5">I</text>
<circle cx="553" cy="895" r="5"/><text class="c" x="553" y="897.5">F</text>
<circle cx="318" cy="943" r="5"/><text class="c" x="318" y="945.5">H</text>
<circle cx="616" cy="943" r="5"/><text class="c" x="616" y="945.5">A</text>
<circle cx="381" cy="992" r="5"/><text class="c" x="381" y="994.5">B</text>
<circle cx="404" cy="997" r="5"/><text class="c" x="404" y="999.5">E</text>
<circle cx="616" cy="997" r="5"/><text class="c" x="616" y="999.5">D</text>
<circle cx="402" cy="1052" r="5"/><text class="c" x="402" y="1054.5">B</text>
<circle cx="402" cy="1106" r="5"/><text class="c" x="402" y="1108.5">J</text>
<circle cx="467" cy="1154" r="5"/><text class="c" x="467" y="1156.5">C</text>
<circle cx="553" cy="1154" r="5"/><text class="c" x="553" y="1156.5">H</text>
<circle cx="839" cy="930" r="5"/><text class="c" x="839" y="932.5">R</text>
<circle cx="1215" cy="1051" r="5"/><text class="c" x="1215" y="1053.5">U</text>
<circle cx="87" cy="1238" r="5"/><text class="c" x="87" y="1240.5">L</text>
<circle cx="236" cy="1368" r="5"/><text class="c" x="236" y="1370.5">N</text>
<circle cx="1408" cy="1165" r="5"/><text class="c" x="1408" y="1167.5">P</text>
<circle cx="1087" cy="1214" r="5"/><text class="c" x="1087" y="1216.5">T</text>
<circle cx="1298" cy="1277" r="5"/><text class="c" x="1298" y="1279.5">S</text>
<circle cx="1005" cy="1422" r="5"/><text class="c" x="1005" y="1424.5">Q</text>
</g>
<text x="384" y="188" style="font-style:italic;font-size:9px">To Midgaard</text>
<text x="404" y="233" style="font-style:italic;font-size:9px">To Kerofk</text>
<text x="1151" y="33" style="font-style:italic;font-size:9px">To ST:TNG</text>
<text x="1339" y="1000" style="font-style:italic;font-size:7px">Maze</text>
<text x="1340" y="1217" style="font-style:italic;font-size:7px">Maze</text>
<text x="1475" y="1217" style="font-style:italic;font-size:7px">Maze</text>
<text class="s" x="702" y="713" style="font-size:21px;font-weight:bold;font-style:italic;letter-spacing:1px">Yurgach Domain</text>
<text class="s" x="698" y="736" style="font-size:21px;font-weight:bold;font-style:italic">&amp;</text>
<text class="s" x="702" y="760" style="font-size:21px;font-weight:bold;font-style:italic;letter-spacing:1px">Jennys Tavern</text>
<text class="s" x="679" y="782" style="font-size:13px">Mapped by</text>
<text x="736" y="782" style="font-size:14px;font-weight:bold;fill:#f00">Torrid</text>
<text x="700" y="793" style="font-size:7px">http://www.eskimo.com/~chaos/aardwolfinfo.html</text>
<path class="l" d="M673 811H687 M681 803V819"/>
<text class="s" x="712" y="815" style="font-size:10px">Doors</text>
<rect x="625" y="825" width="17" height="11" style="stroke:#f00;stroke-width:1.3"/>
<text class="s" x="715" y="834" style="font-size:10px;fill:#f00">Rooms with Aggressive Mobs</text>
<text class="s" x="704" y="850" style="font-size:10px;fill:#00f">Portals</text>
<text class="s" x="659" y="866" style="font-size:10px;fill:#00f">*</text>
<text class="s" x="709" y="865" style="font-size:10px;fill:#00f">Portal Destinations</text>
<text class="s" x="659" y="880" style="font-size:10px;fill:#f00;font-weight:bold">P</text>
<text class="s" x="720" y="880" style="font-size:10px;fill:#f00">Kali Pendant Destination</text>
</svg>
</body></html>
